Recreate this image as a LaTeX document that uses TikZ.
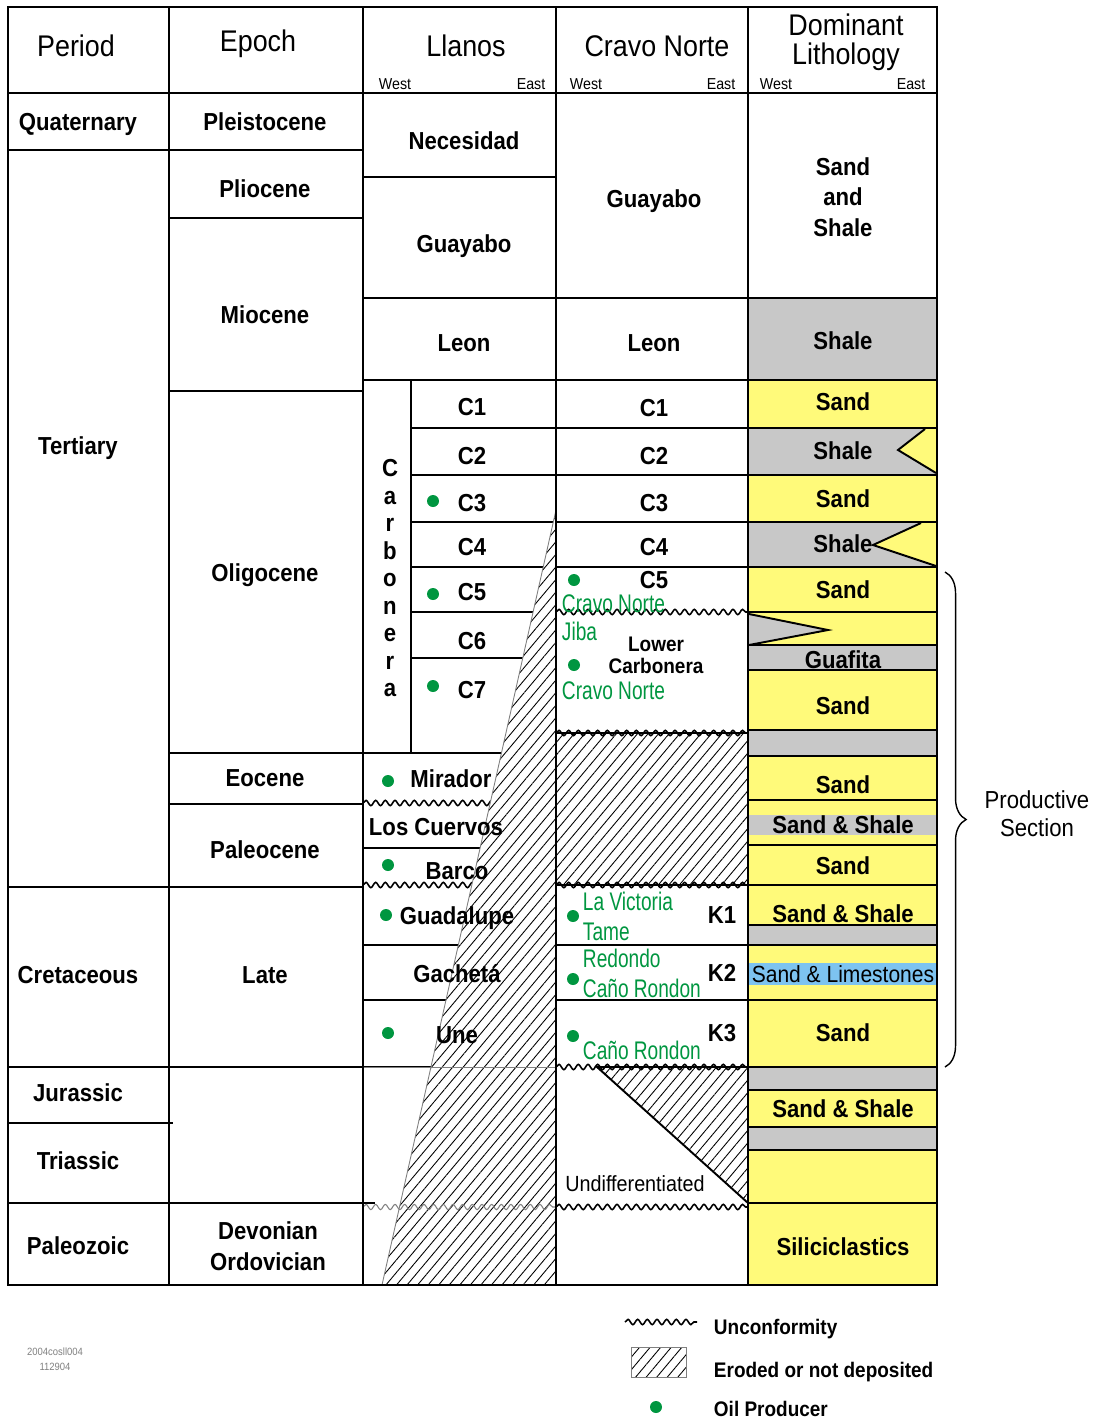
\documentclass[tikz,border=0pt]{standalone}
\usepackage{fontspec}
\setmainfont[FakeStretch=0.9]{Liberation Sans}
\newfontfamily\fieldfont[FakeStretch=0.75]{Liberation Sans}
\usetikzlibrary{decorations.pathmorphing,%
                decorations.pathreplacing,%
                patterns.meta}
\definecolor{sandy}{RGB}{255,250,122}
\definecolor{shaly}{RGB}{200,200,200}
\definecolor{limy}{RGB}{125,195,240}
\definecolor{oilgreen}{RGB}{0,150,64}

\begin{document}
\begin{tikzpicture}[x=0.02cm,y=-0.02cm,line width=1.1pt]
  \tikzstyle{every node}=[inner sep=0pt,text height=1.5ex,text depth=.25ex,yshift=-0.07cm]
  \tikzstyle{HeadStyle}=[font=\fontsize{17}{19}\selectfont]
  \tikzstyle{SideStyle}=[font=\fontsize{9}{10}\selectfont,yshift=0.04cm]
  \tikzstyle{UnitStyle}=[font=\bfseries\fontsize{14}{16}\selectfont]
  \tikzstyle{SmallStyle}=[font=\bfseries\fontsize{12}{14}\selectfont]
  \tikzstyle{FieldStyle}=[font=\fieldfont\fontsize{14.5}{16}\selectfont,text=oilgreen,anchor=west]
  \tikzstyle{OilStyle}=[circle,fill=oilgreen,minimum size=0.24cm,text height=0pt,text depth=0pt,yshift=0.07cm]
  \tikzstyle{UnconfStyle}=[decorate,decoration={snake,segment length=5.5pt,amplitude=1.5pt},line width=0.9pt]
  \tikzstyle{EroStyle}=[preaction={fill=white},pattern={Lines[angle=50,distance=4.6pt,line width=0.5pt]}]
  \useasboundingbox (0,0) rectangle (1103,1418);
  \foreach \t/\b/\c in {93/298/white,298/380/shaly,380/428/sandy,428/475/shaly,475/522/sandy,
      522/567/shaly,567/612/sandy,612/645/sandy,645/670/shaly,670/730/sandy,730/756/shaly,
      756/800/sandy,800/845/sandy,845/885/sandy,885/925/sandy,925/945/shaly,945/1000/sandy,
      1000/1067/sandy,1067/1090/shaly,1090/1127/sandy,1127/1150/shaly,1150/1203/sandy,1203/1285/sandy}
    \draw[fill=\c] (748,\t) rectangle (937,\b);
  \fill[shaly] (749,815) rectangle (936,835);
  \fill[limy] (749,963) rectangle (936,985);
  \fill[sandy] (925,429) -- (898,450) -- (936,473) -- (936,429) -- cycle;
  \draw (925,429) -- (898,450) -- (936,473);
  \fill[sandy] (921,523) -- (873,545) -- (936,566) -- (936,523) -- cycle;
  \draw (921,523) -- (873,545) -- (936,566);
  \fill[shaly] (749,614) -- (828,630) -- (749,645) -- cycle;
  \draw (749,614) -- (828,630) -- (749,645);
  \draw (8,93) -- (937,93);
  \foreach \y in {150,887,1067} \draw (8,\y) -- (169,\y);
  \draw (8,1123) -- (173,1123);
  \draw (8,1203) -- (375,1203);
  \foreach \y in {150,218,391,753,804,887,1067} \draw (169,\y) -- (363,\y);
  \foreach \y in {177,298,380,753,848,945,1000,1067} \draw (363,\y) -- (556,\y);
  \draw (411,380) -- (411,753);
  \foreach \y in {428,475,522,567,612,658} \draw (411,\y) -- (556,\y);
  \foreach \y in {298,380,428,475,522,567,945,1000} \draw (556,\y) -- (748,\y);
  \draw[UnconfStyle] (363,803) -- (500,803);
  \draw[UnconfStyle] (363,885) -- (480,885);
  \draw[EroStyle] (556,733) rectangle (748,885);
  \draw[EroStyle] (597,1067) -- (748,1067) -- (748,1203) -- cycle;
  \foreach \y in {612,733,885,1067,1207} \draw[UnconfStyle] (556,\y) -- (748,\y);
  \fill[EroStyle] (556,510) -- (382,1285) -- (556,1285) -- cycle;
  \draw[line width=0.5pt,gray] (556,510) -- (382,1285);
  \draw[line width=0.5pt,gray] (363,1067) -- (556,1067);
  \draw[UnconfStyle,gray,line width=0.6pt] (363,1207) -- (556,1207);
  \draw (8,7) rectangle (937,1285);
  \foreach \x in {169,363,556,748} \draw (\x,7) -- (\x,1285);
  \draw[decorate,decoration={brace,amplitude=12pt},line width=0.8pt] (945,572) -- (945,1067);
  \node[HeadStyle] (period) at (76,47) {Period};
  \node[HeadStyle] (epoch) at (258,42) {Epoch};
  \node[HeadStyle] (llanos) at (466,47) {Llanos};
  \node[HeadStyle] (cravo) at (657,47) {Cravo Norte};
  \node[HeadStyle] (litho1) at (846,26) {Dominant};
  \node[HeadStyle] (litho2) at (846,55) {Lithology};
  \foreach \w/\e [count=\i] in {395/531,586/721,776/911} {
    \node[SideStyle] (west\i) at (\w,82) {West};
    \node[SideStyle] (east\i) at (\e,82) {East};
  }
  \node[UnitStyle] (quat) at (78,121) {Quaternary};
  \node[UnitStyle] (tert) at (78,445) {Tertiary};
  \node[UnitStyle] (cret) at (78,974) {Cretaceous};
  \node[UnitStyle] (jura) at (78,1092) {Jurassic};
  \node[UnitStyle] (tria) at (78,1160) {Triassic};
  \node[UnitStyle] (paleoz) at (78,1245) {Paleozoic};
  \node[UnitStyle] (pleist) at (265,121) {Pleistocene};
  \node[UnitStyle] (plio) at (265,188) {Pliocene};
  \node[UnitStyle] (mio) at (265,314) {Miocene};
  \node[UnitStyle] (oligo) at (265,572) {Oligocene};
  \node[UnitStyle] (eoc) at (265,777) {Eocene};
  \node[UnitStyle] (paleoc) at (265,849) {Paleocene};
  \node[UnitStyle] (late) at (265,974) {Late};
  \node[UnitStyle] (devon) at (268,1230) {Devonian};
  \node[UnitStyle] (ordov) at (268,1261) {Ordovician};
  \node[UnitStyle] (neces) at (464,140) {Necesidad};
  \node[UnitStyle] (guayL) at (464,243) {Guayabo};
  \node[UnitStyle] (leonL) at (464,342) {Leon};
  \foreach \l [count=\i] in {C,a,r,b,o,n,e,r,a}
    \node[UnitStyle] (carb\i) at (390,440+27.5*\i) {\l};
  \foreach \i/\y in {1/406,2/455,3/502,4/546,5/591,6/640,7/689}
    \node[UnitStyle] (cL\i) at (472,\y) {C\i};
  \foreach \i/\y in {1/407,2/455,3/502,4/546,5/579}
    \node[UnitStyle] (cC\i) at (654,\y) {C\i};
  \node[UnitStyle] (mirador) at (451,778) {Mirador};
  \node[UnitStyle] (cuervos) at (436,826) {Los Cuervos};
  \node[UnitStyle] (barco) at (457,870) {Barco};
  \node[UnitStyle] (guadal) at (457,915) {Guadalupe};
  \node[UnitStyle] (gacheta) at (457,973) {Gachetá};
  \node[UnitStyle] (une) at (457,1034) {Une};
  \foreach \x/\y [count=\i] in {433/501,433/594,433/686,388/781,388/865,386/915,388/1033,
      574/580,574/665,573/916,573/979,573/1036}
    \node[OilStyle] (oil\i) at (\x,\y) {};
  \node[UnitStyle] (guayC) at (654,198) {Guayabo};
  \node[UnitStyle] (leonC) at (654,342) {Leon};
  \node[FieldStyle] (cravo1) at (561,603) {Cravo Norte};
  \node[FieldStyle] (jiba) at (561,631) {Jiba};
  \node[FieldStyle] (cravo2) at (561,690) {Cravo Norte};
  \node[SmallStyle] (lower) at (656,642) {Lower};
  \node[SmallStyle] (lcarb) at (656,664) {Carbonera};
  \node[FieldStyle] (victoria) at (582,901) {La Victoria};
  \node[FieldStyle] (tame) at (582,931) {Tame};
  \node[FieldStyle] (redondo) at (582,958) {Redondo};
  \node[FieldStyle] (rondon1) at (582,988) {Caño Rondon};
  \node[FieldStyle] (rondon2) at (582,1050) {Caño Rondon};
  \node[UnitStyle] (k1) at (722,914) {K1};
  \node[UnitStyle] (k2) at (722,972) {K2};
  \node[UnitStyle] (k3) at (722,1032) {K3};
  \node[font=\fontsize{12.5}{14}\selectfont] (undiff) at (635,1182) {Undifferentiated};
  \node[UnitStyle] (ss1) at (843,166) {Sand};
  \node[UnitStyle] (ss2) at (843,196) {and};
  \node[UnitStyle] (ss3) at (843,227) {Shale};
  \foreach \t/\y [count=\i] in {Shale/340,Sand/401,Shale/450,Sand/498,Shale/543,Sand/589,Guafita/659,
      Sand/705,Sand/784,Sand \& Shale/824,Sand/865,Sand \& Shale/913,Sand/1032,Sand \& Shale/1108,
      Siliciclastics/1246}
    \node[UnitStyle] (lith\i) at (843,\y) {\t};
  \node[font=\fontsize{13.3}{15}\selectfont] (limes) at (843,973) {Sand \& Limestones};
  \node[font=\fontsize{14}{16}\selectfont] (prod1) at (1037,799) {Productive};
  \node[font=\fontsize{14}{16}\selectfont] (prod2) at (1037,827) {Section};
  \draw[UnconfStyle] (625,1322) -- (697,1322);
  \draw[EroStyle,line width=0.5pt,draw=gray] (631,1347) rectangle (686,1377);
  \node[OilStyle] (oilkey) at (656,1407) {};
  \node[SmallStyle,anchor=west] (unconfkey) at (713,1325) {Unconformity};
  \node[SmallStyle,anchor=west] (erodkey) at (713,1368) {Eroded or not deposited};
  \node[SmallStyle,anchor=west] (oilkeytxt) at (713,1407) {Oil Producer};
  \node[font=\fontsize{6}{7}\selectfont,text=gray,yshift=0.05cm] (code1) at (55,1349) {2004cosll004};
  \node[font=\fontsize{6}{7}\selectfont,text=gray,yshift=0.05cm] (code2) at (55,1364) {112904};
\end{tikzpicture}
\end{document}
